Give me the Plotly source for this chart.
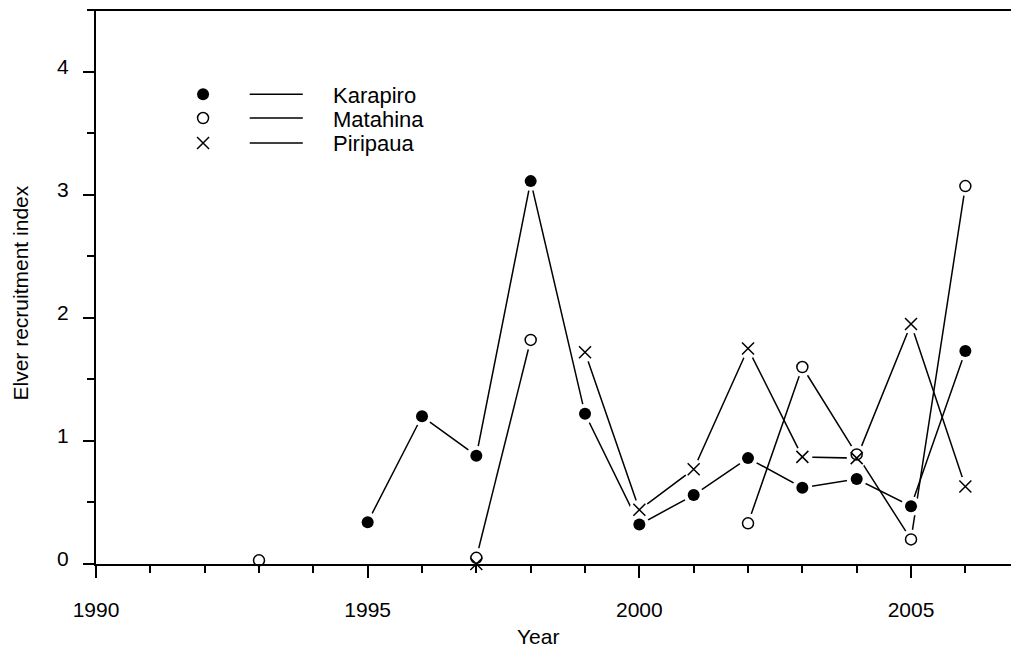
import plotly.graph_objects as go

# Elver recruitment index by year at three hydro dams
years = [1993, 1994, 1995, 1996, 1997, 1998, 1999, 2000, 2001, 2002, 2003, 2004, 2005, 2006]
karapiro = [None, None, 0.34, 1.20, 0.88, 3.11, 1.22, 0.32, 0.56, 0.86, 0.62, 0.69, 0.47, 1.73]
matahina = [0.03, None, None, None, 0.05, 1.82, None, None, None, 0.33, 1.60, 0.89, 0.20, 3.07]
piripaua = [None, None, None, None, 0.00, None, 1.72, 0.44, 0.77, 1.75, 0.87, 0.86, 1.95, 0.63]

series_names = ["Karapiro", "Matahina", "Piripaua"]
x_ticks = [1990, 1995, 2000, 2005]
y_ticks = [0, 1, 2, 3, 4]

FONT = "Liberation Sans, Arial, sans-serif"
INK = "black"

# marker style for each site
styles = {
    "Karapiro": dict(symbol="circle", size=12, color=INK),
    "Matahina": dict(symbol="circle-open", size=11, color=INK, line=dict(width=1.5, color=INK)),
    "Piripaua": dict(symbol="x-thin-open", size=12, color=INK, line=dict(width=1.5, color=INK)),
}
values = {"Karapiro": karapiro, "Matahina": matahina, "Piripaua": piripaua}

fig = go.Figure()

# connecting lines
for name in series_names:
    fig.add_trace(go.Scatter(
        x=years, y=values[name], mode="lines",
        line=dict(color=INK, width=1.5), connectgaps=False,
        showlegend=False, hoverinfo="skip", cliponaxis=False,
    ))

# white halos so the lines stop short of the symbols
for name in series_names:
    fig.add_trace(go.Scatter(
        x=years, y=values[name], mode="markers",
        marker=dict(symbol="circle", size=20, color="white", line=dict(width=0)),
        showlegend=False, hoverinfo="skip", cliponaxis=False,
    ))

# symbols
for name in series_names:
    fig.add_trace(go.Scatter(
        x=years, y=values[name], mode="markers", name=name,
        marker=styles[name], showlegend=False, cliponaxis=False,
    ))

# hand-built key: symbol, short line, label
key_x_sym = 0.117
key_x_line = (0.168, 0.226)
key_x_text = 0.257
key_rows = [0.848, 0.805, 0.760]
for name, ky in zip(series_names, key_rows):
    fig.add_trace(go.Scatter(
        x=[key_x_sym], y=[ky], mode="markers", marker=styles[name],
        xaxis="x2", yaxis="y2", showlegend=False, hoverinfo="skip", cliponaxis=False,
    ))
    fig.add_shape(type="line", xref="paper", yref="paper",
                  x0=key_x_line[0], x1=key_x_line[1], y0=ky, y1=ky,
                  line=dict(color=INK, width=1.5))
    fig.add_annotation(x=key_x_text, y=ky, xref="paper", yref="paper",
                       text=name, showarrow=False, xanchor="left", yanchor="middle",
                       yshift=-1,
                       font=dict(family=FONT, size=22, color=INK))

# top frame line
fig.add_shape(type="line", xref="paper", yref="paper", x0=-0.0066, x1=1.0, y0=1, y1=1,
              line=dict(color=INK, width=2))

# axis titles
fig.add_annotation(x=0.483, y=0, xref="paper", yref="paper", yshift=-72,
                   text="Year", showarrow=False, xanchor="center", yanchor="middle",
                   font=dict(family=FONT, size=21, color=INK))
fig.add_annotation(x=-0.082, y=0.49, xref="paper", yref="paper",
                   text="Elver recruitment index", textangle=-90, showarrow=False,
                   xanchor="center", yanchor="middle",
                   font=dict(family=FONT, size=21, color=INK))

fig.update_layout(
    width=1011, height=657,
    margin=dict(l=96, r=0, t=10, b=93),
    paper_bgcolor="white", plot_bgcolor="white",
    font=dict(family=FONT, size=21, color=INK),
    xaxis=dict(
        range=[1990, 2006.84], tickmode="array", tickvals=x_ticks,
        ticktext=[str(t) for t in x_ticks],
        showline=True, linecolor=INK, linewidth=2, zeroline=False, showgrid=False,
        ticks="outside", ticklen=12, tickwidth=1.5, tickcolor=INK,
        ticklabelstandoff=14,
        minor=dict(dtick=1, tick0=1990, ticks="outside", ticklen=7, tickwidth=1.5,
                   tickcolor=INK, showgrid=False),
        tickfont=dict(family=FONT, size=21, color=INK),
    ),
    yaxis=dict(
        range=[0, 4.5], tickmode="array", tickvals=y_ticks,
        ticktext=[str(t) for t in y_ticks],
        showline=True, linecolor=INK, linewidth=2, zeroline=False, showgrid=False,
        ticks="outside", ticklen=11, tickwidth=1.5, tickcolor=INK,
        ticklabelstandoff=10, ticklabelshift=-5,
        minor=dict(dtick=0.5, tick0=0, ticks="outside", ticklen=7, tickwidth=1.5,
                   tickcolor=INK, showgrid=False),
        tickfont=dict(family=FONT, size=21, color=INK),
    ),
    xaxis2=dict(overlaying="x", range=[0, 1], visible=False),
    yaxis2=dict(overlaying="y", range=[0, 1], visible=False),
)

fig.write_html("out.html")
